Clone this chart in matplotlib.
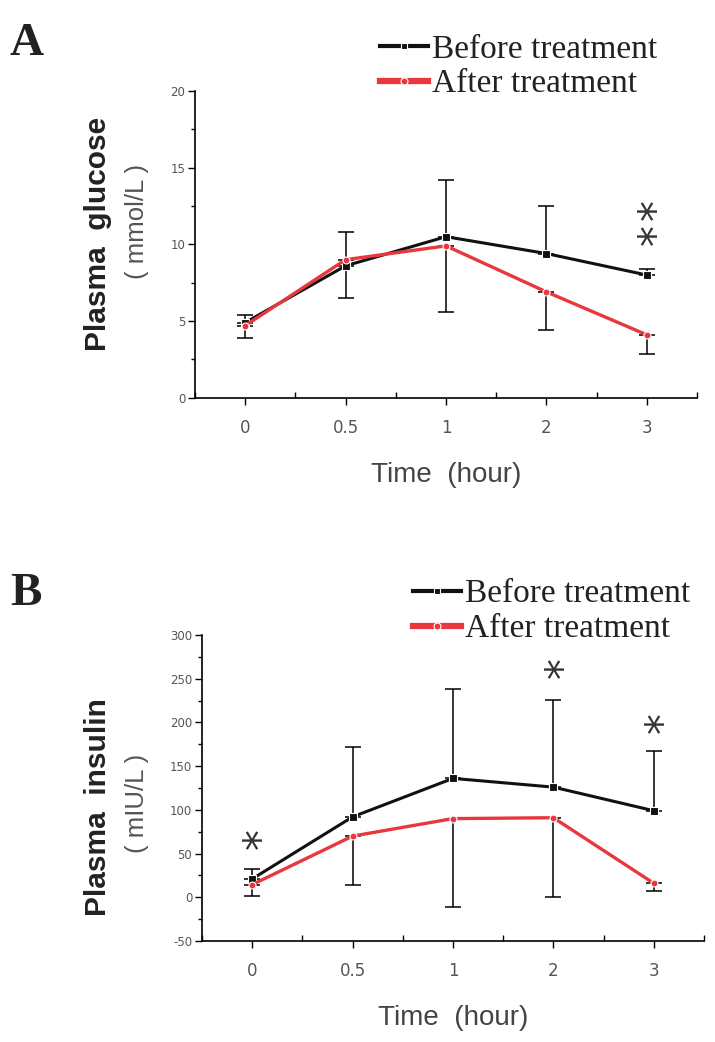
import matplotlib
matplotlib.use("Agg")
import matplotlib.pyplot as plt
from matplotlib.lines import Line2D
from matplotlib.transforms import offset_copy
import numpy as np

plt.rcParams["axes.unicode_minus"] = False

times = ["0", "0.5", "1", "2", "3"]

# panel A - plasma glucose (mmol/L)
glu_before = [4.9, 8.6, 10.5, 9.4, 8.0]
glu_before_sd = [0.5, 2.2, 3.7, 3.1, 0.4]
glu_after = [4.7, 9.0, 9.9, 6.9, 4.1]
glu_after_sd = [0.8, 2.5, 4.3, 2.5, 1.25]
glu_star_x = [4, 4]
glu_star_y = [12.3, 10.65]

# panel B - plasma insulin (mIU/L)
ins_before = [21, 92, 136, 126, 99]
ins_before_sd = [11, 80, 102, 100, 68]
ins_after = [14.5, 70, 90, 91, 16]
ins_after_sd = [12.5, 56, 101.5, 91, 9]
ins_star_x = [0, 3, 4]
ins_star_y = [67, 263, 200]

RED = "#e8383d"
W, H = 715, 1042
fig = plt.figure(figsize=(W / 100, H / 100), dpi=100)


def px(x0, y0, x1, y1):
    # pixel box -> figure fraction rect
    return [x0 / W, 1 - y1 / H, (x1 - x0) / W, (y1 - y0) / H]


def panel(rect, before, bsd, after, asd, ylim, yticks, stars):
    ax = fig.add_axes(rect)
    x = np.arange(len(times))
    ax.errorbar(x, before, yerr=[np.zeros(len(x)), bsd], fmt="none",
                ecolor="black", elinewidth=1.1, capsize=5.5, capthick=1.1, zorder=2)
    ax.errorbar(x, after, yerr=[asd, np.zeros(len(x))], fmt="none",
                ecolor="black", elinewidth=1.1, capsize=5.5, capthick=1.1, zorder=2)
    ax.plot(x, before, color="#111111", lw=2.2, marker="s", ms=5.5,
            mec="white", mew=0.8, zorder=3)
    ax.plot(x, after, color=RED, lw=2.4, marker="o", ms=5,
            mec="white", mew=0.8, zorder=4)
    # asterisk rotated so one arm lies flat; nudge right since the glyph sits high in its box
    fs = 30
    star_tr = offset_copy(ax.transData, fig=fig, x=0.24 * fs, y=0, units="points")
    for sx, sy in zip(*stars):
        ax.text(sx, sy, "*", ha="center", va="center", fontsize=fs, rotation=90,
                color="#333333", family="DejaVu Sans", transform=star_tr)

    ax.set_xlim(-0.5, 4.5)
    ax.set_ylim(*ylim)
    ax.set_xticks(x)
    ax.set_xticklabels(times)
    ax.set_xticks(np.arange(-0.5, 4.6, 1), minor=True)
    ax.set_yticks(yticks)
    ax.set_yticks(np.arange(yticks[0], yticks[-1] + 0.01, (yticks[1] - yticks[0]) / 2), minor=True)
    ax.spines["top"].set_visible(False)
    ax.spines["right"].set_visible(False)
    for s in ["left", "bottom"]:
        ax.spines[s].set_linewidth(1.2)
    ax.tick_params(axis="x", which="major", direction="out", length=5, width=1,
                   labelsize=12, labelcolor="#555555", pad=10)
    ax.tick_params(axis="x", which="minor", direction="in", length=4, width=1)
    ax.tick_params(axis="y", which="major", direction="out", length=5, width=1,
                   labelsize=8.5, labelcolor="#555555", pad=2)
    ax.tick_params(axis="y", which="minor", direction="out", length=3, width=1)
    ax.set_xlabel("Time  (hour)", fontsize=20, color="#444444", labelpad=18,
                  family="Liberation Sans")
    return ax


axA = panel(px(195, 91, 697, 397.7), glu_before, glu_before_sd, glu_after, glu_after_sd,
            (0, 20), [0, 5, 10, 15, 20], (glu_star_x, glu_star_y))
axB = panel(px(202, 635, 704, 941), ins_before, ins_before_sd, ins_after, ins_after_sd,
            (-50, 300), [-50, 0, 50, 100, 150, 200, 250, 300], (ins_star_x, ins_star_y))

# y labels: bold title + unit line
fig.text(98 / W, 1 - 234 / H, "Plasma  glucose", rotation=90, ha="center", va="center",
         fontsize=21.5, fontweight="bold", color="#222222", family="Liberation Sans")
fig.text(137 / W, 1 - 221 / H, "( mmol/L )", rotation=90, ha="center", va="center",
         fontsize=18.5, color="#555555", family="Liberation Sans")
fig.text(98 / W, 1 - 807 / H, "Plasma  insulin", rotation=90, ha="center", va="center",
         fontsize=21.5, fontweight="bold", color="#222222", family="Liberation Sans")
fig.text(137 / W, 1 - 803 / H, "( mIU/L )", rotation=90, ha="center", va="center",
         fontsize=18.5, color="#555555", family="Liberation Sans")

# panel letters
fig.text(10 / W, 1 - 55 / H, "A", fontsize=34, fontweight="bold", family="Liberation Serif",
         color="#222222")
fig.text(10 / W, 1 - 605 / H, "B", fontsize=34, fontweight="bold", family="Liberation Serif",
         color="#222222")

# legends
h_before = Line2D([], [], color="#111111", lw=3, marker="s", ms=5, mec="white", mew=0.8)
h_after = Line2D([], [], color=RED, lw=4.5, marker="o", ms=5, mec="white", mew=0.8)
for ax, (lx, ly) in [(axA, (380, 34)), (axB, (413, 579))]:
    ax.legend([h_before, h_after], ["Before treatment", "After treatment"],
              loc="upper left", bbox_to_anchor=(lx / W, 1 - ly / H),
              bbox_transform=fig.transFigure, frameon=False, borderpad=0,
              borderaxespad=0, handlelength=1.45, handletextpad=0.12, labelspacing=0.13,
              prop={"family": "Liberation Serif", "size": 24}, labelcolor="#222222")

fig.savefig("out.png", dpi=100)
